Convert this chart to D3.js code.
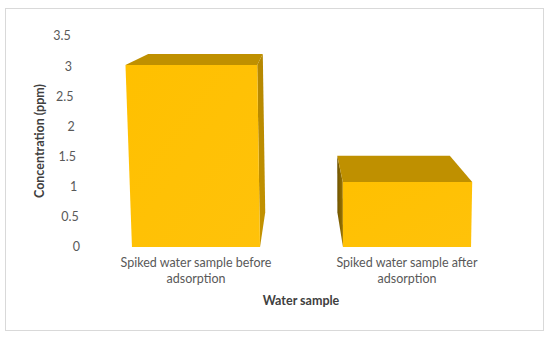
<!DOCTYPE html>
<html>
<head>
<meta charset="utf-8">
<script src="https://cdn.jsdelivr.net/npm/d3@7"></script>
<style>
  body { margin: 0; background: #fff; }
  svg { display: block; }
  text { font-family: Lato, "Open Sans", sans-serif; }
</style>
</head>
<body>
<svg id="chart" width="550" height="338"></svg>
<script>
// ---- data ----
const categories = ["Spiked water sample before adsorption", "Spiked water sample after adsorption"];
const values = [3.02, 1.08];
const yTicks = [0, 0.5, 1, 1.5, 2, 2.5, 3, 3.5];
const yTitle = "Concentration (ppm)";
const xTitle = "Water sample";

const svg = d3.select("#chart");

// frame
svg.append("rect").attr("x", 5.5).attr("y", 8.5).attr("width", 538).attr("height", 322)
  .attr("fill", "#fff").attr("stroke", "#d9d9d9").attr("stroke-width", 1);

// scales
const x = d3.scaleBand().domain(categories).range([90.5, 512.5]).paddingInner(0.393).paddingOuter(0.1965);
const y = d3.scaleLinear().domain([0, 3.5]).range([247, 36]);

// simple perspective projection
const VP = [300, -20], DEPTH = 0.13, K = 0.0095, CX = 358;
function proj(xb, v, z) {
  const X = CX + (xb - CX) * (1 + K * v);
  const Y = y(v);
  return [X + z * (VP[0] - X), Y + z * (VP[1] - Y)];
}
const poly = pts => "M" + pts.map(p => p.join(",")).join("L") + "Z";

// gradients
const defs = svg.append("defs");
const gFront = defs.append("linearGradient").attr("id", "gFront").attr("x1", 0).attr("y1", 0).attr("x2", 1).attr("y2", 1);
gFront.append("stop").attr("offset", 0).attr("stop-color", "#FFC000");
gFront.append("stop").attr("offset", 1).attr("stop-color", "#FFC20A");
const gSideR = defs.append("linearGradient").attr("id", "gSideR").attr("x1", 0).attr("y1", 0).attr("x2", 0).attr("y2", 1);
gSideR.append("stop").attr("offset", 0).attr("stop-color", "#B58700");
gSideR.append("stop").attr("offset", 1).attr("stop-color", "#C49300");
const gSideL = defs.append("linearGradient").attr("id", "gSideL").attr("x1", 0).attr("y1", 0).attr("x2", 1).attr("y2", 0);
gSideL.append("stop").attr("offset", 0).attr("stop-color", "#6E5300");
gSideL.append("stop").attr("offset", 1).attr("stop-color", "#9C7500");

const bars = svg.append("g");
categories.forEach((c, i) => {
  const v = values[i];
  const x0 = x(c), x1 = x(c) + x.bandwidth();
  const g = bars.append("g");
  if (x1 < VP[0]) {
    g.append("path").attr("d", poly([proj(x1, 0, 0), proj(x1, v, 0), proj(x1, v, DEPTH), proj(x1, 0, DEPTH)]))
      .attr("fill", "url(#gSideR)");
  }
  if (x0 > VP[0]) {
    g.append("path").attr("d", poly([proj(x0, 0, 0), proj(x0, v, 0), proj(x0, v, DEPTH), proj(x0, 0, DEPTH)]))
      .attr("fill", "url(#gSideL)");
  }
  g.append("path").attr("d", poly([proj(x0, v, 0), proj(x1, v, 0), proj(x1, v, DEPTH), proj(x0, v, DEPTH)]))
    .attr("fill", "#BF9000");
  g.append("path").attr("d", poly([proj(x0, 0, 0), proj(x1, 0, 0), proj(x1, v, 0), proj(x0, v, 0)]))
    .attr("fill", "url(#gFront)");
});

// y tick labels
const axisX = 80;
svg.append("g").selectAll("text").data(yTicks).join("text")
  .attr("x", d => proj(axisX, d, 0)[0])
  .attr("y", d => y(d))
  .attr("dy", "0.35em")
  .attr("text-anchor", "end")
  .attr("font-size", 12.5)
  .attr("fill", "#595959")
  .text(d => d3.format("")(d));

// category labels (wrapped)
function wrapLines(text, maxW, fs) {
  const tmp = svg.append("text").attr("font-size", fs);
  const words = text.split(" ");
  const lines = [];
  let line = [];
  words.forEach(w => {
    const test = line.concat(w).join(" ");
    tmp.text(test);
    if (tmp.node().getComputedTextLength() > maxW && line.length) {
      lines.push(line.join(" "));
      line = [w];
    } else line.push(w);
  });
  lines.push(line.join(" "));
  tmp.remove();
  return lines;
}
categories.forEach(c => {
  const lines = wrapLines(c, 170, 12.5);
  const t = svg.append("text").attr("text-anchor", "middle").attr("font-size", 12.5).attr("fill", "#595959");
  lines.forEach((l, j) => {
    t.append("tspan").attr("x", x(c) + x.bandwidth() / 2).attr("y", 267 + j * 16).text(l);
  });
});

// axis titles
svg.append("text").attr("x", 301).attr("y", 305).attr("text-anchor", "middle")
  .attr("font-size", 12.5).attr("font-weight", "bold").attr("fill", "#404040").text(xTitle);
svg.append("text").attr("transform", "translate(44,141) rotate(-90)").attr("text-anchor", "middle")
  .attr("font-size", 12.5).attr("font-weight", "bold").attr("fill", "#404040").text(yTitle);
</script>
</body>
</html>
